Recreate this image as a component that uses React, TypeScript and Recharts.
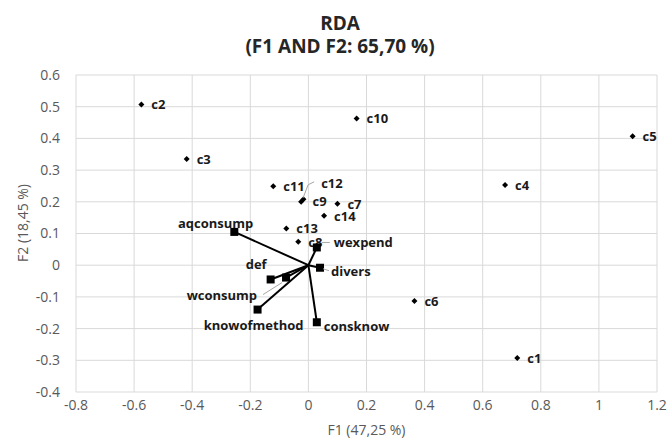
import {
  ScatterChart,
  Scatter,
  XAxis,
  YAxis,
  CartesianGrid,
  ReferenceLine,
} from "recharts";

// sites (observations)
const siteNames = ["c1", "c2", "c3", "c4", "c5", "c6", "c7", "c8", "c9", "c10", "c11", "c12", "c13", "c14"];
const siteF1 = [0.719, -0.575, -0.419, 0.677, 1.116, 0.365, 0.1, -0.035, -0.017, 0.166, -0.121, -0.025, -0.076, 0.054];
const siteF2 = [-0.293, 0.507, 0.335, 0.253, 0.407, -0.113, 0.194, 0.074, 0.208, 0.463, 0.249, 0.2, 0.116, 0.156];

// explanatory variables (arrows)
const varNames = ["aqconsump", "wexpend", "divers", "def", "wconsump", "knowofmethod", "consknow"];
const varF1 = [-0.255, 0.029, 0.04, -0.13, -0.077, -0.175, 0.029];
const varF2 = [0.105, 0.056, -0.008, -0.045, -0.039, -0.14, -0.18];

const xTicks = [-0.8, -0.6, -0.4, -0.2, 0, 0.2, 0.4, 0.6, 0.8, 1, 1.2];
const yTicks = [-0.4, -0.3, -0.2, -0.1, 0, 0.1, 0.2, 0.3, 0.4, 0.5, 0.6];

const sites = siteNames.map((name, i) => ({ name, x: siteF1[i], y: siteF2[i] }));
const vars = varNames.map((name, i) => ({ name, x: varF1[i], y: varF2[i] }));

// label placement relative to the marker (px)
type LabelPos = { dx: number; dy: number; anchor?: "start" | "middle" | "end"; leader?: number[][] };
const LABEL_POS: Record<string, LabelPos> = {
  c9: { dx: 9, dy: 2 },
  c12: { dx: 20, dy: -19, leader: [[2, -4], [7, -17], [13, -20]] },
  aqconsump: { dx: 19, dy: -9, anchor: "end" },
  def: { dx: -4, dy: -15, anchor: "end" },
  wconsump: { dx: -29, dy: 17, anchor: "end", leader: [[-23, 17], [-4, 5]] },
  knowofmethod: { dx: -4, dy: 15, anchor: "middle" },
  consknow: { dx: 7, dy: 4 },
  wexpend: { dx: 17, dy: -5, leader: [[5, -5], [13, -5]] },
  divers: { dx: 11, dy: 3, leader: [[3, 1], [9, 3]] },
};

const fmt = (v: number) => String(Number(v.toFixed(1)));

function renderLabel(cx: number, cy: number, name: string) {
  const pos = LABEL_POS[name] || { dx: 10, dy: 0 };
  return (
    <>
      {pos.leader && (
        <polyline
          points={pos.leader.map(([a, b]) => `${cx + a},${cy + b}`).join(" ")}
          fill="none"
          stroke="#a6a6a6"
          strokeWidth={1}
        />
      )}
      <text
        x={cx + pos.dx}
        y={cy + pos.dy}
        textAnchor={pos.anchor || "start"}
        dominantBaseline="central"
        fontSize={13}
        fontWeight="bold"
        fill="#1a1a1a"
      >
        {name}
      </text>
    </>
  );
}

function SiteShape(props: any) {
  const { cx, cy, payload } = props;
  const r = 3;
  return (
    <g>
      <path d={`M${cx},${cy - r} L${cx + r},${cy} L${cx},${cy + r} L${cx - r},${cy} Z`} fill="#000" />
      {renderLabel(cx, cy, payload.name)}
    </g>
  );
}

function VarShape(props: any) {
  const { cx, cy, payload } = props;
  const s = 4;
  return (
    <g>
      <rect x={cx - s} y={cy - s} width={s * 2} height={s * 2} fill="#000" />
      {renderLabel(cx, cy, payload.name)}
    </g>
  );
}

export default function App() {
  return (
    <div style={{ position: "relative", width: 670, height: 443, fontFamily: "'Open Sans', sans-serif", background: "#fff" }}>
      <style>{`body { margin: 0; }`}</style>
      <div
        style={{
          position: "absolute",
          left: 0,
          width: 680,
          top: 12,
          textAlign: "center",
          fontWeight: "bold",
          fontSize: 19,
          lineHeight: "23px",
          color: "#262626",
        }}
      >
        RDA
        <br />
        (F1 AND F2: 65,70 %)
      </div>
      <ScatterChart width={670} height={443} margin={{ top: 75, right: 13, bottom: 21, left: 16 }}>
        <CartesianGrid stroke="#d9d9d9" horizontalValues={yTicks} verticalValues={xTicks} />
        <XAxis
          type="number"
          dataKey="x"
          domain={[-0.8, 1.2]}
          ticks={xTicks}
          tickFormatter={fmt}
          axisLine={false}
          tickLine={false}
          height={30}
          tick={{ fontSize: 14, fill: "#595959" }}
          label={{
            content: (p: any) => {
              const vb = p.viewBox;
              return (
                <text x={vb.x + vb.width / 2} y={vb.y + 37} textAnchor="middle" dominantBaseline="central" fontSize={14} fill="#595959">
                  F1 (47,25 %)
                </text>
              );
            },
          }}
        />
        <YAxis
          type="number"
          dataKey="y"
          domain={[-0.4, 0.6]}
          ticks={yTicks}
          tickFormatter={fmt}
          axisLine={false}
          tickLine={false}
          width={60}
          tickMargin={10}
          tick={{ fontSize: 14, fill: "#595959" }}
          label={{
            content: () => (
              <text
                x={22}
                y={223}
                transform="rotate(-90 22 223)"
                textAnchor="middle"
                dominantBaseline="central"
                fontSize={14}
                fill="#595959"
              >
                F2 (18,45 %)
              </text>
            ),
          }}
        />
        {vars.map((v) => (
          <ReferenceLine
            key={v.name}
            segment={[
              { x: 0, y: 0 },
              { x: v.x, y: v.y },
            ]}
            stroke="#000"
            strokeWidth={2}
          />
        ))}
        <Scatter data={sites} shape={SiteShape} isAnimationActive={false} />
        <Scatter data={vars} shape={VarShape} isAnimationActive={false} />
      </ScatterChart>
    </div>
  );
}
